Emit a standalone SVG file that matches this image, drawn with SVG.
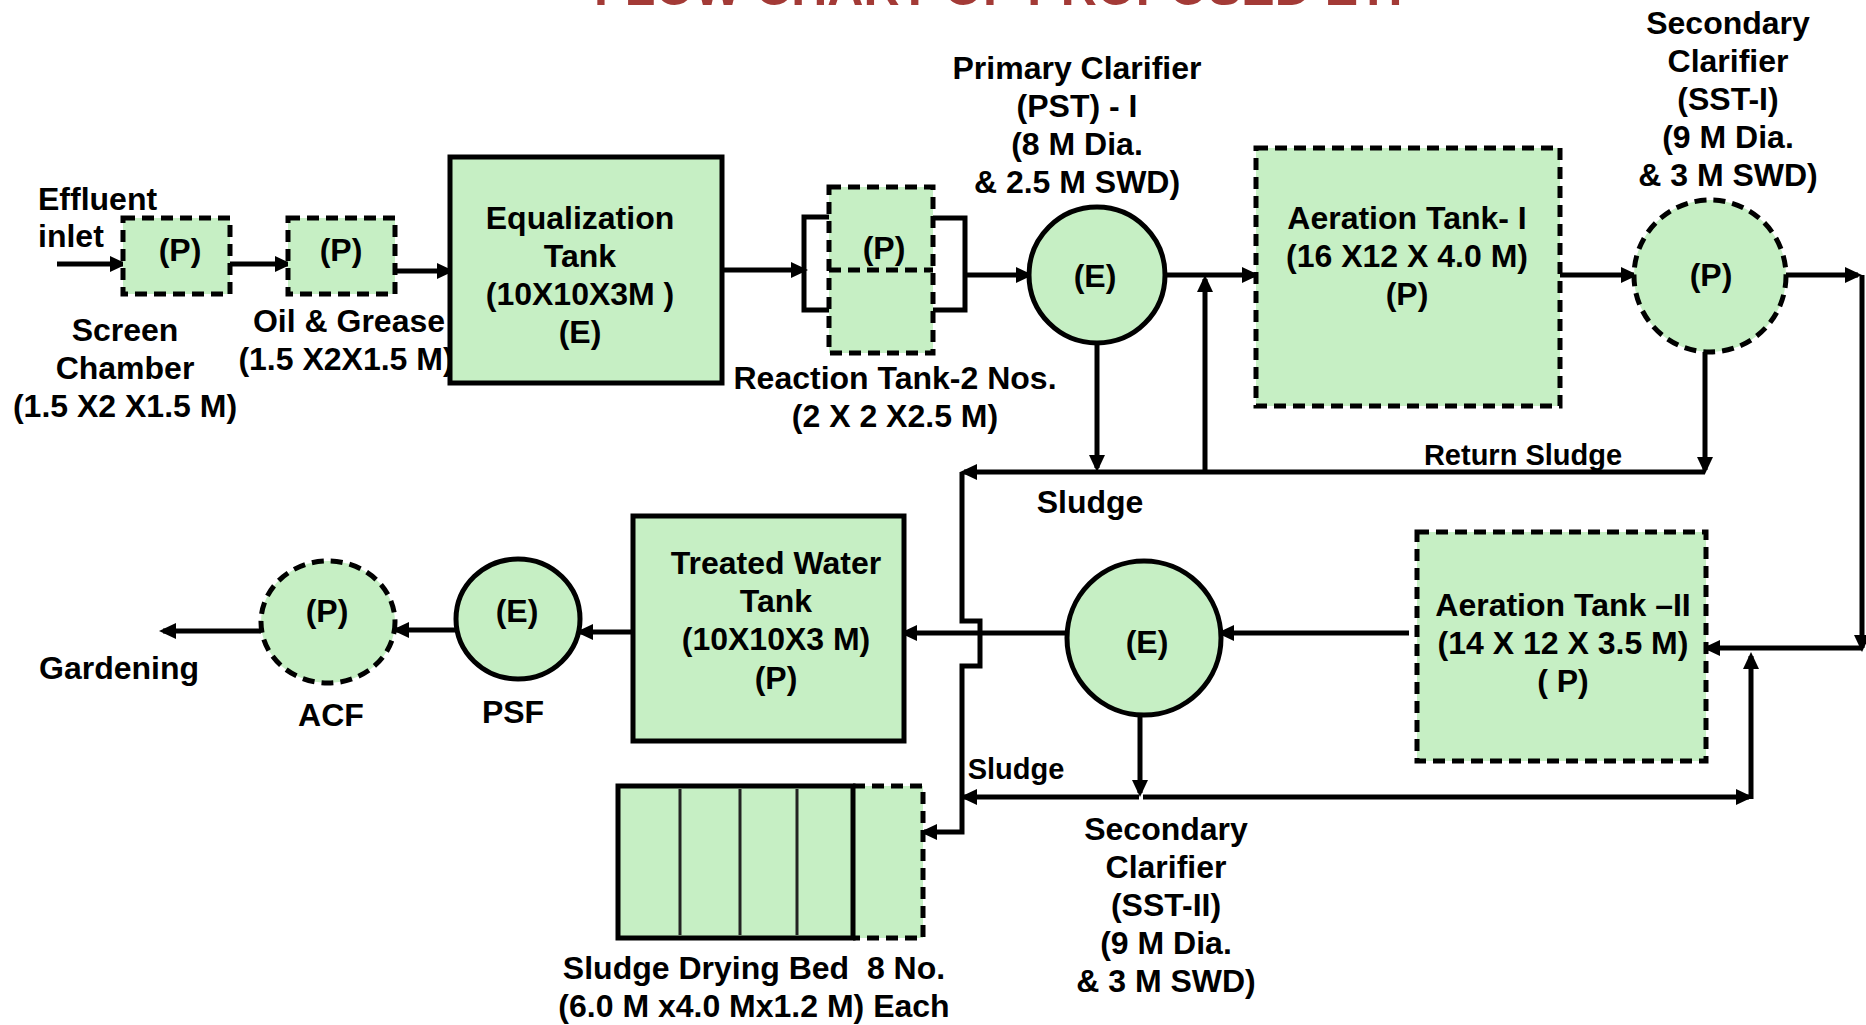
<svg xmlns="http://www.w3.org/2000/svg" width="1866" height="1025" viewBox="0 0 1866 1025">
<defs>
<marker id="ah" markerUnits="userSpaceOnUse" markerWidth="18" markerHeight="16" refX="13" refY="8" orient="auto">
<path d="M0,0 L17,8 L0,16 z" fill="#000"/>
</marker>
<style>
text{font-family:"Liberation Sans",Arial,Helvetica,sans-serif;font-weight:bold;font-size:32px;fill:#000;text-anchor:middle}
.l{text-anchor:start}
.s{font-size:29px}
.box{fill:#c6efc4;stroke:#000;stroke-width:5}
.dash{stroke-dasharray:12 7}
.ln{fill:none;stroke:#000;stroke-width:5}
.con{fill:none;stroke:#000;stroke-width:5;marker-end:url(#ah)}
.thin{fill:none;stroke:#222;stroke-width:3}
.title{font-size:50px;fill:#a33a36}
</style>
</defs>
<rect width="1866" height="1025" fill="#fff"/>
<text class="title" x="1008" y="5">FLOW CHART OF PROPOSED ETP</text>

<g id="connectors">
<path class="con" d="M57,264 H123"/>
<path class="con" d="M230,264 H288"/>
<path class="con" d="M395,271 H450"/>
<path class="con" d="M722,270 H804"/>
<path class="con" d="M965,275 H1029"/>
<path class="con" d="M1165,275 H1255"/>
<path class="con" d="M1560,275 H1634"/>
<path class="con" d="M1786,275 H1858"/>
<path class="con" d="M1862,275 V648"/>
<path class="con" d="M1862,648 H1707"/>
<path class="con" d="M1705,352 V470"/>
<path class="con" d="M1705,472 H964"/>
<path class="con" d="M1097,343 V468"/>
<path class="con" d="M1205,474 V279"/>
<path class="con" d="M962,472 V621 H980 V666 H962 V832 H924"/>
<path class="con" d="M1139,797 H964"/>
<path class="con" d="M1143,797 H1749"/>
<path class="con" d="M1751,799 V656"/>
<path class="con" d="M1409,633 H1221"/>
<path class="con" d="M1140,716 V793"/>
<path class="con" d="M1068,633 H904"/>
<path class="con" d="M633,632 H580"/>
<path class="con" d="M456,630 H396"/>
<path class="con" d="M261,631 H163"/>
</g>

<g id="inlet-label">
<text class="l" x="38" y="210">Effluent</text>
<text class="l" x="38" y="247">inlet</text>
</g>

<g id="screen-chamber">
<rect class="box dash" x="123" y="218" width="107" height="76"/>
<text x="180" y="261">(P)</text>
<text x="125" y="341">Screen</text>
<text x="125" y="379">Chamber</text>
<text x="125" y="417">(1.5 X2 X1.5 M)</text>
</g>

<g id="oil-grease">
<rect class="box dash" x="288" y="218" width="107" height="76"/>
<text x="341" y="261">(P)</text>
<text x="349" y="332">Oil &amp; Grease</text>
<text x="346" y="370">(1.5 X2X1.5 M)</text>
</g>

<g id="equalization-tank">
<rect class="box" x="450" y="157" width="272" height="226"/>
<text x="580" y="229">Equalization</text>
<text x="580" y="267">Tank</text>
<text x="580" y="305">(10X10X3M )</text>
<text x="580" y="343">(E)</text>
</g>

<g id="reaction-tank">
<rect class="box dash" x="829" y="187" width="104" height="166"/>
<path class="ln dash" d="M829,270 H933"/>
<path class="ln" d="M829,217 H804 V310 H829"/>
<path class="ln" d="M933,218 H965 V310 H933"/>
<text x="884" y="259">(P)</text>
<text x="895" y="389">Reaction Tank-2 Nos.</text>
<text x="895" y="427">(2 X 2 X2.5 M)</text>
</g>

<g id="primary-clarifier">
<circle class="box" cx="1097" cy="275" r="68"/>
<text x="1095" y="287">(E)</text>
<text x="1077" y="79">Primary Clarifier</text>
<text x="1077" y="117">(PST) - I</text>
<text x="1077" y="155">(8 M Dia.</text>
<text x="1077" y="193">&amp; 2.5 M SWD)</text>
</g>

<g id="aeration-tank-1">
<rect class="box dash" x="1256" y="148" width="304" height="258"/>
<text x="1407" y="229">Aeration Tank- I</text>
<text x="1407" y="267">(16 X12 X 4.0 M)</text>
<text x="1407" y="305">(P)</text>
</g>

<g id="secondary-clarifier-1">
<circle class="box dash" cx="1710" cy="276" r="76"/>
<text x="1711" y="286">(P)</text>
<text x="1728" y="34">Secondary</text>
<text x="1728" y="72">Clarifier</text>
<text x="1728" y="110">(SST-I)</text>
<text x="1728" y="148">(9 M Dia.</text>
<text x="1728" y="186">&amp; 3 M SWD)</text>
</g>

<g id="labels">
<text class="s" x="1523" y="465">Return Sludge</text>
<text x="1090" y="513">Sludge</text>
<text class="s" x="1016" y="779">Sludge</text>
<text x="119" y="679">Gardening</text>
</g>

<g id="aeration-tank-2">
<rect class="box dash" x="1417" y="532" width="289" height="229"/>
<text x="1563" y="616">Aeration Tank –II</text>
<text x="1563" y="654">(14 X 12 X 3.5 M)</text>
<text x="1563" y="692">( P)</text>
</g>

<g id="secondary-clarifier-2">
<circle class="box" cx="1144" cy="638" r="77"/>
<text x="1147" y="653">(E)</text>
<text x="1166" y="840">Secondary</text>
<text x="1166" y="878">Clarifier</text>
<text x="1166" y="916">(SST-II)</text>
<text x="1166" y="954">(9 M Dia.</text>
<text x="1166" y="992">&amp; 3 M SWD)</text>
</g>

<g id="treated-water-tank">
<rect class="box" x="633" y="516" width="271" height="225"/>
<text x="776" y="574">Treated Water</text>
<text x="776" y="612">Tank</text>
<text x="776" y="650">(10X10X3 M)</text>
<text x="776" y="689">(P)</text>
</g>

<g id="psf">
<ellipse class="box" cx="518" cy="619" rx="62" ry="60"/>
<text x="517" y="622">(E)</text>
<text x="513" y="723">PSF</text>
</g>

<g id="acf">
<ellipse class="box dash" cx="328" cy="622" rx="67" ry="61"/>
<text x="327" y="622">(P)</text>
<text x="331" y="726">ACF</text>
</g>

<g id="sludge-drying-bed">
<rect x="618" y="786" width="305" height="152" fill="#c6efc4"/>
<rect class="ln" x="618" y="786" width="235" height="152"/>
<path class="ln dash" d="M853,786 H923 V938 H853"/>
<path class="thin" d="M680,789 V935 M740,789 V935 M797,789 V935"/>
<text x="754" y="979" style="white-space:pre">Sludge Drying Bed  8 No.</text>
<text x="754" y="1017">(6.0 M x4.0 Mx1.2 M) Each</text>
</g>
</svg>
